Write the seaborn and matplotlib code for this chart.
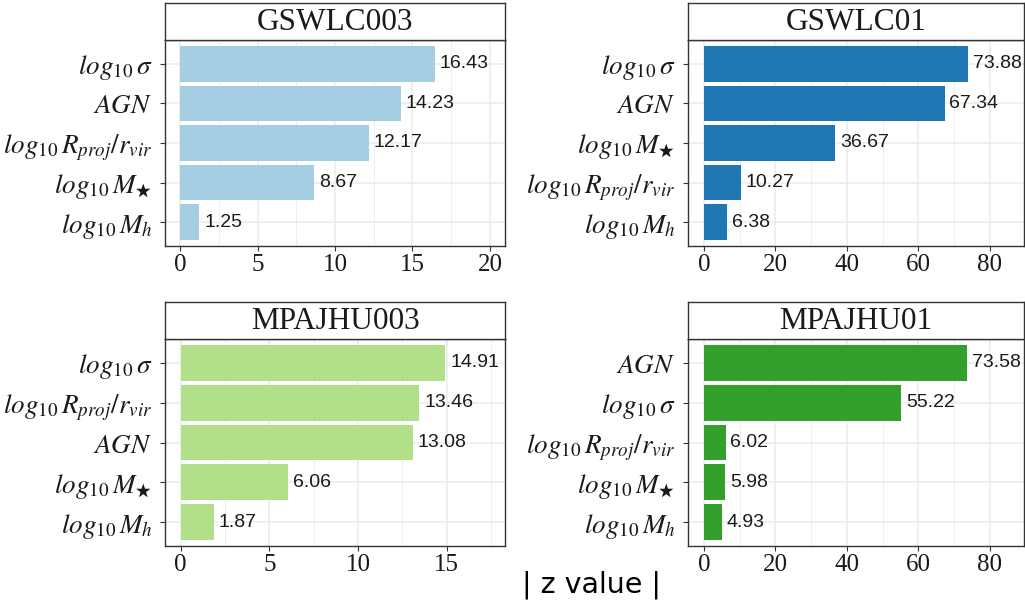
import matplotlib
matplotlib.use("Agg")
import matplotlib.pyplot as plt
from matplotlib.ticker import MultipleLocator
import pandas as pd
import seaborn as sns

# Predictor labels (mathtext)
SIGMA = r"$log_{10}\,\sigma$"
AGN = r"$AGN$"
RPROJ = r"$log_{10}\,R_{proj}/r_{vir}$"
MSTAR = r"$log_{10}\,M_{\bigstar}$"
MHALO = r"$log_{10}\,M_h$"

# Panel titles
panels = ["GSWLC003", "GSWLC01", "MPAJHU003", "MPAJHU01"]

# Predictors per panel, ordered by |z| (top to bottom)
gswlc003_vars = [SIGMA, AGN, RPROJ, MSTAR, MHALO]
gswlc003_z = [16.43, 14.23, 12.17, 8.67, 1.25]

gswlc01_vars = [SIGMA, AGN, MSTAR, RPROJ, MHALO]
gswlc01_z = [73.88, 67.34, 36.67, 10.27, 6.38]

mpajhu003_vars = [SIGMA, RPROJ, AGN, MSTAR, MHALO]
mpajhu003_z = [14.91, 13.46, 13.08, 6.06, 1.87]

mpajhu01_vars = [AGN, SIGMA, RPROJ, MSTAR, MHALO]
mpajhu01_z = [73.58, 55.22, 6.02, 5.98, 4.93]

bar_colors = ["#A6CEE3", "#1F78B4", "#B2DF8A", "#33A02C"]

# x ticks and limits per panel
x_ticks = [[0, 5, 10, 15, 20], [0, 20, 40, 60, 80],
           [0, 5, 10, 15], [0, 20, 40, 60, 80]]
x_limits = [(-0.97, 20.97), (-4.5, 89.6), (-0.88, 18.28), (-4.5, 89.6)]

sns.set_style("white")
plt.rcParams["mathtext.fontset"] = "stix"
plt.rcParams["font.family"] = ["DejaVu Sans"]

W, H = 1025, 607
fig = plt.figure(figsize=(W / 100, H / 100), dpi=100)

# Panel boxes in pixels: left, top, right, bottom
boxes = [(165, 40, 505, 246), (688, 40, 1024, 246),
         (165, 339, 505, 546), (688, 339, 1024, 546)]
strip_h = 37

data = [(gswlc003_vars, gswlc003_z), (gswlc01_vars, gswlc01_z),
        (mpajhu003_vars, mpajhu003_z), (mpajhu01_vars, mpajhu01_z)]

EDGE = "#333333"
GRID = "#EBEBEB"

for i, (title, (labels, vals)) in enumerate(zip(panels, data)):
    l, t, r, b = boxes[i]
    ax = fig.add_axes([l / W, 1 - b / H, (r - l) / W, (b - t) / H])
    df = pd.DataFrame({"variable": labels, "z": vals})
    sns.barplot(data=df, x="z", y="variable", orient="h", color=bar_colors[i],
                saturation=1, width=0.9, ax=ax, order=labels, linewidth=0)
    ax.set_xlim(*x_limits[i])
    ax.set_ylim(len(labels) - 0.4, -0.6)
    ax.set_xticks(x_ticks[i])
    step = x_ticks[i][1] - x_ticks[i][0]
    ax.xaxis.set_minor_locator(MultipleLocator(step / 2))
    ax.set_axisbelow(True)
    ax.grid(axis="x", which="major", color=GRID, linewidth=1.1)
    ax.grid(axis="x", which="minor", color=GRID, linewidth=0.6)
    ax.grid(axis="y", which="major", color=GRID, linewidth=1.1)
    ax.set_xlabel("")
    ax.set_ylabel("")
    for s in ax.spines.values():
        s.set_color(EDGE)
        s.set_linewidth(1.0)
        s.set_visible(True)
    ax.tick_params(axis="both", which="major", length=3.5, width=0.8,
                   color=EDGE, direction="out", bottom=True, left=True)
    ax.tick_params(axis="x", which="minor", length=0, bottom=False)
    ax.tick_params(axis="x", pad=2)
    ax.tick_params(axis="y", pad=5.5, labelsize=19.5)
    for lab in ax.get_xticklabels():
        lab.set_fontfamily("Liberation Serif")
        lab.set_fontsize(18)
        lab.set_color("#1a1a1a")
    for lab in ax.get_yticklabels():
        lab.set_color("#1a1a1a")
    ax.bar_label(ax.containers[0], fmt="%.2f", padding=3.5,
                 fontsize=14, family="Liberation Sans", color="#1a1a1a")

    # Facet strip
    sax = fig.add_axes([l / W, 1 - t / H, (r - l) / W, strip_h / H])
    sax.set_xticks([])
    sax.set_yticks([])
    sax.set_facecolor("white")
    for s in sax.spines.values():
        s.set_color(EDGE)
        s.set_linewidth(1.0)
        s.set_visible(True)
    sax.text(0.5, 0.47, title, ha="center", va="center",
             family="Liberation Serif", fontsize=22.5, color="#1a1a1a",
             transform=sax.transAxes)

fig.text(592 / W, 1 - 585 / H, "| z value |", ha="center", va="center",
         fontsize=20.5, family="DejaVu Sans", color="black")

fig.savefig("out.png", dpi=100, facecolor="white")
